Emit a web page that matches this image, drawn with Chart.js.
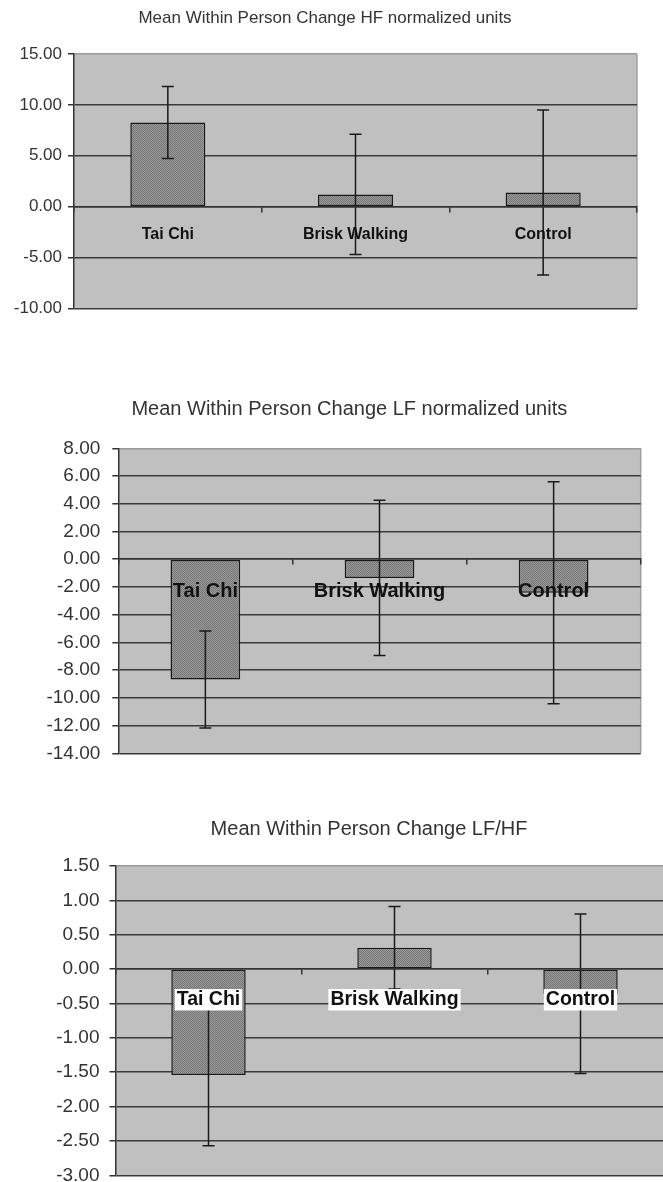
<!DOCTYPE html>
<html>
<head>
<meta charset="utf-8">
<script src="https://cdn.jsdelivr.net/npm/chart.js@4.4.1/dist/chart.umd.min.js"></script>
<style>
  html, body { margin: 0; padding: 0; background: #fff; overflow: hidden; width: 663px; height: 1182px; }
  canvas { position: absolute; left: 0; }
</style>
</head>
<body>
<canvas id="hfChart" width="663" height="338" style="top:0px"></canvas>
<canvas id="lfChart" width="663" height="423" style="top:360px"></canvas>
<canvas id="ratioChart" width="700" height="425" style="top:780px"></canvas>
<script>
const groups = ['Tai Chi', 'Brisk Walking', 'Control'];

// HF normalized units
const hfMean = [8.27, 1.2, 1.4];
const hfErr = [3.53, 5.9, 8.1];
const hfTicks = [-10, -5, 0, 5, 10, 15];

// LF normalized units
const lfMean = [-8.68, -1.35, -2.42];
const lfErr = [3.5, 5.6, 8.0];
const lfTicks = [-14, -12, -10, -8, -6, -4, -2, 0, 2, 4, 6, 8];

// LF/HF
const ratioMean = [-1.54, 0.31, -0.36];
const ratioErr = [1.03, 0.6, 1.16];
const ratioTicks = [-3, -2.5, -2, -1.5, -1, -0.5, 0, 0.5, 1, 1.5];

const FONT = "'Liberation Sans', Arial, sans-serif";

// stippled grey fill like the old excel bars
function barPattern() {
  const c = document.createElement('canvas');
  c.width = 2; c.height = 2;
  const g = c.getContext('2d');
  g.fillStyle = '#9a9a9a'; g.fillRect(0, 0, 2, 2);
  g.fillStyle = '#767676'; g.fillRect(0, 0, 1, 1); g.fillRect(1, 1, 1, 1);
  return g.createPattern(c, 'repeat');
}

const plotBg = {
  id: 'plotBg',
  beforeDraw(chart) {
    const { ctx, chartArea: a } = chart;
    ctx.save();
    ctx.fillStyle = '#c0c0c0';
    ctx.fillRect(a.left, a.top, a.right - a.left, a.bottom - a.top);
    ctx.strokeStyle = '#a0a0a0';
    ctx.lineWidth = 1.5;
    ctx.beginPath();
    ctx.moveTo(a.right, a.top);
    ctx.lineTo(a.right, a.bottom);
    ctx.stroke();
    ctx.restore();
  }
};

const errorBars = {
  id: 'errorBars',
  afterDatasetsDraw(chart) {
    const { ctx } = chart;
    const y = chart.scales.y;
    const ds = chart.data.datasets[0];
    ctx.save();
    ctx.strokeStyle = '#1a1a1a';
    ctx.lineWidth = 1.5;
    chart.getDatasetMeta(0).data.forEach((bar, i) => {
      const hi = y.getPixelForValue(ds.data[i] + ds.errors[i]);
      const lo = y.getPixelForValue(ds.data[i] - ds.errors[i]);
      ctx.beginPath();
      ctx.moveTo(bar.x, hi); ctx.lineTo(bar.x, lo);
      ctx.moveTo(bar.x - 6, hi); ctx.lineTo(bar.x + 6, hi);
      ctx.moveTo(bar.x - 6, lo); ctx.lineTo(bar.x + 6, lo);
      ctx.stroke();
    });
    ctx.restore();
  }
};

function makeChart(id, title, means, errs, ticks, o) {
  const top = ticks[ticks.length - 1];
  return new Chart(document.getElementById(id), {
    type: 'bar',
    data: {
      labels: groups,
      datasets: [{
        data: means,
        errors: errs,
        backgroundColor: barPattern(),
        borderColor: '#1a1a1a',
        borderWidth: 1.5,
        borderSkipped: false,
        categoryPercentage: 1,
        barPercentage: 0.4
      }]
    },
    options: {
      responsive: false,
      animation: false,
      devicePixelRatio: 1,
      layout: { padding: { left: o.padLeft, right: o.padRight, top: 0, bottom: o.padBottom } },
      plugins: {
        legend: { display: false },
        tooltip: { enabled: false },
        title: {
          display: true,
          text: title,
          color: '#333',
          font: { family: FONT, size: o.titleSize, weight: 'normal', lineHeight: 1.2 },
          padding: { top: o.titleTop, bottom: o.titleBottom }
        }
      },
      scales: {
        x: {
          position: { y: 0 },
          grid: { display: true, drawOnChartArea: false, drawTicks: true, tickLength: 5, color: '#333', lineWidth: 1.5, offset: true, z: 1 },
          border: { display: true, color: '#333', width: 1.5, z: 1 },
          ticks: {
            z: 2,
            color: '#111',
            font: { family: FONT, size: o.labelSize, weight: 'bold', lineHeight: o.labelLine },
            padding: o.labelPad,
            maxRotation: 0,
            autoSkip: false,
            showLabelBackdrop: o.backdrop,
            backdropColor: '#fff',
            backdropPadding: { top: 0, bottom: 0, left: 2, right: 2 }
          }
        },
        y: {
          min: ticks[0],
          max: top,
          afterBuildTicks: s => { s.ticks = ticks.map(v => ({ value: v })); },
          afterFit: s => { s.width = o.yWidth; },
          grid: {
            color: c => (c.tick && c.tick.value === top) ? '#9a9a9a' : '#3a3a3a',
            lineWidth: 1.5,
            tickLength: 6,
            tickColor: '#333'
          },
          border: { display: true, color: '#333', width: 1.5 },
          ticks: {
            color: '#333',
            font: { family: FONT, size: o.tickSize },
            padding: o.tickPad,
            callback: v => Number(v).toFixed(2)
          }
        },
        // empty right-hand box so the title sits where the original had it
        gap: {
          type: 'linear',
          position: 'right',
          grid: { display: false },
          border: { display: false },
          ticks: { display: false },
          afterFit: s => { s.width = o.rightGap; }
        }
      }
    },
    plugins: [plotBg, errorBars]
  });
}

makeChart('hfChart', 'Mean Within Person Change HF normalized units', hfMean, hfErr, hfTicks, {
  padLeft: 12, padRight: 25, padBottom: 29.5, yWidth: 62, rightGap: 1,
  titleSize: 17, titleTop: 8.2, titleBottom: 25.3,
  tickSize: 17, tickPad: 6,
  labelSize: 16, labelLine: 1.2, labelPad: 13.7, backdrop: false
});

makeChart('lfChart', 'Mean Within Person Change LF normalized units', lfMean, lfErr, lfTicks, {
  padLeft: 44, padRight: 8.3, padBottom: 29.7, yWidth: 74.3, rightGap: 14,
  titleSize: 20, titleTop: 37.4, titleBottom: 26.9,
  tickSize: 19, tickPad: 12,
  labelSize: 20, labelLine: 1.2, labelPad: 15, backdrop: false
});

makeChart('ratioChart', 'Mean Within Person Change LF/HF', ratioMean, ratioErr, ratioTicks, {
  padLeft: 54, padRight: 16, padBottom: 29.7, yWidth: 61.5, rightGap: 10.5,
  titleSize: 20, titleTop: 37.2, titleBottom: 24.7,
  tickSize: 19, tickPad: 10,
  labelSize: 19.5, labelLine: 1.1, labelPad: 15, backdrop: true
});
</script>
</body>
</html>
